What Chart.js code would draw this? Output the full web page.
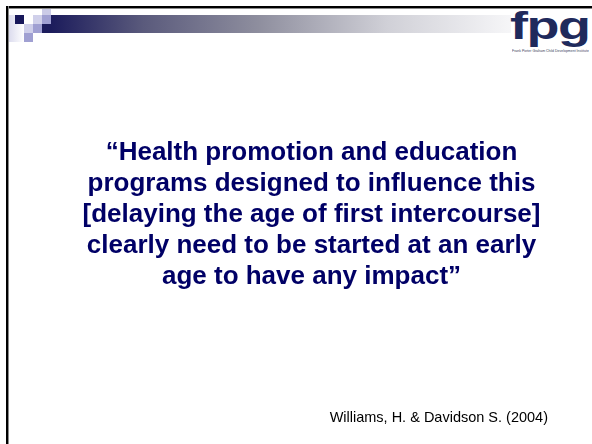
<!DOCTYPE html>
<html>
<head>
<meta charset="utf-8">
<title>Health promotion quote</title>
<script src="https://cdn.jsdelivr.net/npm/chart.js@4.4.0/dist/chart.umd.min.js"></script>
<style>
  html, body { margin: 0; padding: 0; background: #fff; }
  #slide { position: relative; width: 592px; height: 444px; overflow: hidden; background: #fff; }
  .abs { position: absolute; }
  /* marco de la diapositiva */
  #bordeTop { left: 6px; top: 6px; width: 586px; height: 2px; background: #000; border-bottom: 1px solid #8a8a8a; }
  #bordeLeft { left: 6px; top: 6px; width: 2px; height: 438px; background: #000; border-right: 1px solid #8a8a8a; }
  /* barra degradada de la cabecera */
  #barra { left: 51px; top: 15px; width: 460px; height: 18px;
    background: linear-gradient(to right, #1c1c5c 0%, #5a5a7c 20%, #8e8e9e 45%, #d0d0d7 73%, #f6f6f8 100%); }
  #fade { left: 9px; top: 15px; width: 15px; height: 27px;
    background: linear-gradient(to right, #dcdcee, #ffffff); }
  .sq { width: 9px; height: 9px; }
  #logo { left: 510px; top: 4px; font-family: "Liberation Sans", Arial, sans-serif; font-weight: bold;
    font-size: 38px; line-height: 44px; color: #1f2a5c; letter-spacing: -1px;
    transform-origin: 0 0; transform: scaleX(1.42); }
  #tag { left: 512px; top: 49px; font-family: "Liberation Sans", Arial, sans-serif; font-size: 7px;
    color: #3a3f60; white-space: nowrap; transform-origin: 0 0; transform: scale(0.5, 0.55); }
  #chart { position: absolute; left: 0; top: 0; }
</style>
</head>
<body>
<div id="slide">
  <div id="fade" class="abs"></div>
  <div id="barra" class="abs"></div>
  <div class="abs sq" style="left:42px;top:9px;height:6px;background:#cbcbe7"></div>
  <div class="abs sq" style="left:15px;top:15px;background:#18185a"></div>
  <div class="abs sq" style="left:33px;top:15px;background:#d0d0ea"></div>
  <div class="abs sq" style="left:42px;top:15px;background:#a0a0d2"></div>
  <div class="abs sq" style="left:24px;top:24px;background:#cfcfea"></div>
  <div class="abs sq" style="left:33px;top:24px;background:#a0a0d2"></div>
  <div class="abs sq" style="left:42px;top:24px;background:#1c1c5c"></div>
  <div class="abs sq" style="left:24px;top:33px;background:#a0a0d2"></div>
  <div id="bordeTop" class="abs"></div>
  <div id="bordeLeft" class="abs"></div>
  <div id="logo" class="abs">fpg</div>
  <div id="tag" class="abs">Frank Porter Graham Child Development Institute</div>
  <canvas id="chart" width="592" height="444"></canvas>
</div>
<script>
// Texto de la cita (una entrada por renglón)
const lineasCita = [
    '\u201CHealth promotion and education',
    'programs designed to influence this',
    '[delaying the age of first intercourse]',
    'clearly need to be started at an early',
    'age to have any impact\u201D'
];
const referencia = ['Williams, H. & Davidson S. (2004)'];

// Sin series: la diapositiva solo tiene la cita y la referencia
const etiquetas = [];
const valores = [];

const ctx = document.getElementById('chart').getContext('2d');

const chartCita = new Chart(ctx, {
    type: 'bar',
    data: {
        labels: etiquetas,
        datasets: [{ data: valores }]
    },
    options: {
        responsive: false,
        animation: false,
        devicePixelRatio: 1,
        layout: {
            padding: { top: 0, left: 75, right: 44, bottom: 0 }
        },
        scales: {
            x: { display: false },
            y: { display: false }
        },
        plugins: {
            legend: { display: false },
            tooltip: { enabled: false },
            title: {
                display: true,
                text: lineasCita,
                color: '#000066',
                align: 'center',
                font: { family: '"Liberation Sans", Arial, sans-serif', size: 26, weight: 'bold', lineHeight: '31px' },
                padding: { top: 137, bottom: 0 }
            },
            subtitle: {
                display: true,
                position: 'bottom',
                align: 'end',
                text: referencia,
                color: '#000000',
                font: { family: '"Liberation Sans", Arial, sans-serif', size: 14.5, weight: 'normal', lineHeight: '16px' },
                padding: { top: 0, bottom: 18 }
            }
        }
    }
});
</script>
</body>
</html>
